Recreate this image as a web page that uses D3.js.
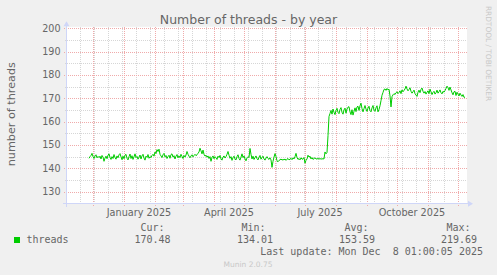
<!DOCTYPE html>
<html>
<head>
<meta charset="utf-8">
<script src="https://cdn.jsdelivr.net/npm/d3@7"></script>
<style>
html,body{margin:0;padding:0;background:#F0F0F0;}
svg{display:block;}
text{font-family:"DejaVu Sans",sans-serif;fill:#666;}
.mono{font-family:"DejaVu Sans Mono",monospace;}
</style>
</head>
<body>
<script>
// ---- data ----
const title = "Number of threads - by year";
const yLabel = "number of threads";
const seriesName = "threads";
const firstDay = "2024-11-27";   // one value per day
const threads = [
144.3,145.0,145.5,146.4,145.0,144.2,145.3,145.8,144.5,145.1,
144.6,145.2,144.0,145.5,144.8,143.0,144.4,145.2,144.1,145.6,
146.2,144.7,143.8,145.0,144.2,145.9,144.6,143.9,145.3,144.5,
145.8,146.3,144.9,143.7,145.2,144.1,145.6,146.0,144.3,143.6,
145.0,146.1,144.2,145.4,143.8,144.9,146.2,144.6,145.1,143.9,
144.8,145.7,144.0,145.3,146.0,144.4,143.5,145.2,144.7,145.9,
144.3,145.0,144.6,145.5,146.0,145.2,147.0,146.3,148.0,147.2,
148.2,146.0,145.3,144.6,145.8,146.4,144.9,145.5,144.2,145.0,
145.6,144.3,145.9,146.2,144.8,145.4,144.0,145.2,145.9,144.5,
145.3,144.6,146.0,145.1,144.2,145.5,144.8,145.7,147.2,146.0,
145.2,144.5,145.3,145.8,144.9,145.5,146.0,145.4,145.8,146.4,
147.0,148.6,147.5,146.2,147.8,146.0,145.2,145.6,144.8,145.3,
144.2,145.0,143.0,144.6,145.3,144.1,145.0,144.5,143.8,145.2,
144.6,145.5,144.0,143.5,144.8,145.3,144.4,145.0,146.0,147.2,
145.6,144.3,145.0,143.4,144.6,145.2,144.0,143.6,145.0,145.8,
144.2,143.5,144.8,146.2,144.6,145.3,144.0,143.2,144.5,145.0,
144.6,148.5,146.0,144.0,145.2,143.8,144.6,145.3,144.1,143.6,
144.8,145.5,143.9,144.6,145.2,144.0,143.5,144.4,145.0,144.2,
143.8,144.5,143.6,140.4,143.0,144.8,146.3,145.0,143.2,142.8,
143.4,143.6,144.0,143.5,143.8,143.6,144.0,143.4,143.9,144.2,
143.6,143.9,144.3,143.7,144.5,144.0,145.0,146.4,144.6,143.8,
144.2,143.6,144.5,143.9,144.0,144.6,142.2,143.4,144.0,145.6,
144.8,145.2,144.0,144.6,143.8,144.2,144.5,144.0,144.0,144.2,
144.0,144.1,144.0,144.0,144.1,144.0,147.0,146.2,146.8,154.0,
162.2,163.5,164.8,163.2,165.4,164.0,163.0,164.8,165.7,164.0,
163.4,165.2,166.0,164.0,163.2,165.0,165.8,163.6,165.4,166.2,
166.4,164.2,163.0,165.1,162.8,164.4,165.9,164.3,166.3,166.6,
164.8,166.8,167.9,165.6,164.2,165.6,166.9,165.4,164.4,165.8,
166.6,164.7,164.2,165.9,166.9,164.9,164.4,165.9,166.8,164.2,
165.2,166.8,169.0,171.3,172.5,173.8,174.0,173.4,174.2,173.6,
173.9,171.0,166.3,170.7,171.5,172.0,171.6,172.4,172.8,172.0,
172.5,173.2,172.0,173.6,172.8,173.4,174.0,175.2,174.0,173.2,
173.8,174.5,173.0,172.2,172.8,173.5,172.0,171.4,170.8,172.6,
173.5,172.4,173.8,174.4,173.0,172.2,172.9,171.8,172.6,173.2,
172.0,173.9,172.8,171.6,172.5,173.0,171.8,172.4,173.5,172.2,
172.8,173.6,172.4,171.9,173.0,172.6,173.3,174.2,175.2,174.6,
173.4,174.8,173.6,172.4,171.5,172.8,173.0,171.2,172.6,171.8,
171.0,172.2,171.4,170.8,171.6,170.4,170.5
];
const yTicks = [130,140,150,160,170,180,190,200];
const xLabels = [["2025-01-16","January 2025"],["2025-04-16","April 2025"],["2025-07-16","July 2025"],["2025-10-16","October 2025"]];
const legendHeads = ["Cur:","Min:","Avg:","Max:"];
const legendValues = ["170.48","134.01","153.59","219.69"];
const lastUpdate = "Last update: Mon Dec  8 01:00:05 2025";
const footer = "Munin 2.0.75";
const watermark = "RRDTOOL / TOBI OETIKER";

// ---- layout ----
const W = 497, H = 275;
const L = 67, R = 467, T = 28.3, B = 203.3;
const day = 864e5;
const anchor = Date.UTC(2025,11,1);
const x = d3.scaleUtc()
  .domain([new Date(anchor - 391*day), new Date(anchor + 9*day)])
  .range([L, R]);
const y = d3.scaleLinear().domain([125,200]).range([B, T]);

const t0 = new Date(firstDay + "T00:00:00Z").getTime();
const data = threads.map((v,i)=>({d:new Date(t0 + i*day), v}));

const svg = d3.select("body").append("svg").attr("width",W).attr("height",H);
svg.append("rect").attr("width",W).attr("height",H).attr("fill","#F0F0F0");
svg.append("rect").attr("x",L).attr("y",T-1.5).attr("width",R-L).attr("height",B-T+1.5).attr("fill","#fff");

const gridG = svg.append("g").attr("shape-rendering","crispEdges");
const minorCol = "#d6d6d6", majorCol = "#f0aaaa";

// minor vertical lines every 14 days (Mondays)
const minorDates = [];
for (let t = Date.UTC(2025,6,28); t > x.domain()[0].getTime(); t -= 14*day) minorDates.push(new Date(t));
for (let t = Date.UTC(2025,6,28)+14*day; t < x.domain()[1].getTime(); t += 14*day) minorDates.push(new Date(t));
const monthDates = d3.utcMonth.range(x.domain()[0], x.domain()[1]);

gridG.selectAll(".hmin").data(d3.range(135,200,10)).join("line")
  .attr("x1",L-2).attr("x2",R).attr("y1",d=>Math.round(y(d))+0.5).attr("y2",d=>Math.round(y(d))+0.5)
  .attr("stroke",minorCol).attr("stroke-dasharray","1,1");
gridG.selectAll(".vmin").data(minorDates).join("line")
  .attr("x1",d=>Math.round(x(d))+0.5).attr("x2",d=>Math.round(x(d))+0.5).attr("y1",T-1).attr("y2",B+2)
  .attr("stroke",minorCol).attr("stroke-dasharray","1,1");
gridG.selectAll(".hmaj").data(yTicks).join("line")
  .attr("x1",L-3).attr("x2",R).attr("y1",d=>Math.round(y(d))+0.5).attr("y2",d=>Math.round(y(d))+0.5)
  .attr("stroke",majorCol).attr("stroke-dasharray","1,1");
gridG.selectAll(".vmaj").data(monthDates).join("line")
  .attr("x1",d=>Math.round(x(d))+0.5).attr("x2",d=>Math.round(x(d))+0.5).attr("y1",T-1).attr("y2",B+3)
  .attr("stroke",majorCol).attr("stroke-dasharray","1,1");

// axes
const axisCol = "#CFD6F8";
svg.append("line").attr("x1",L-4).attr("x2",R+1).attr("y1",B+0.5).attr("y2",B+0.5).attr("stroke",axisCol).attr("shape-rendering","crispEdges");
svg.append("line").attr("x1",L-0.5).attr("x2",L-0.5).attr("y1",B+4).attr("y2",T-3).attr("stroke",axisCol).attr("shape-rendering","crispEdges");
svg.append("path").attr("d",`M${R+1},${B-2.5} L${R+6},${B+0.5} L${R+1},${B+3.5} Z`).attr("fill",axisCol);
svg.append("path").attr("d",`M${L-3.5},${T-2} L${L-0.5},${T-7} L${L+2.5},${T-2} Z`).attr("fill",axisCol);

// line
svg.append("path").datum(data)
  .attr("d", d3.line().x(d=>x(d.d)).y(d=>y(d.v)))
  .attr("fill","none").attr("stroke","#00CC00").attr("stroke-width",1);

// y tick labels
svg.selectAll(".yl").data(yTicks).join("text")
  .attr("x",60.5).attr("y",d=>y(d)).attr("dy","0.36em").attr("text-anchor","end")
  .attr("font-size","9.6px").text(d=>d);

// x labels
svg.selectAll(".xl").data(xLabels).join("text")
  .attr("x",d=>x(new Date(d[0]+"T00:00:00Z"))).attr("y",216.3).attr("text-anchor","middle")
  .attr("font-size","9.7px").text(d=>d[1]);

// title
svg.append("text").attr("x",248.5).attr("y",23.5).attr("text-anchor","middle").attr("font-size","12.5px").text(title);
// y label
svg.append("text").attr("transform","translate(14.5,114.2) rotate(-90)").attr("text-anchor","middle").attr("font-size","11.2px").text(yLabel);
// watermark
svg.append("text").attr("transform","translate(485.5,53.5) rotate(90)").attr("text-anchor","middle").attr("font-size","7.4px").style("fill","#c8c8c8").text(watermark);

// legend
svg.append("rect").attr("x",14).attr("y",237).attr("width",6).attr("height",6).attr("fill","#00CC00");
svg.append("text").attr("class","mono").attr("x",26.5).attr("y",243.3).attr("font-size","10px").text(seriesName);
const headEnds = [164.5,265.5,368.5,470.5];
const valEnds = [170.5,273,375,477];
svg.selectAll(".lh").data(legendHeads).join("text").attr("class","mono")
  .attr("x",(d,i)=>headEnds[i]).attr("y",231).attr("text-anchor","end").attr("font-size","10px").text(d=>d);
svg.selectAll(".lv").data(legendValues).join("text").attr("class","mono")
  .attr("x",(d,i)=>valEnds[i]).attr("y",243.3).attr("text-anchor","end").attr("font-size","10px").text(d=>d);
svg.append("text").attr("class","mono").attr("x",483).attr("y",255.3).attr("text-anchor","end").attr("font-size","10px")
  .style("white-space","pre").attr("xml:space","preserve").text(lastUpdate);
svg.append("text").attr("x",248).attr("y",267).attr("text-anchor","middle").attr("font-size","7.5px").style("fill","#c8c8c8").text(footer);
</script>
</body>
</html>
